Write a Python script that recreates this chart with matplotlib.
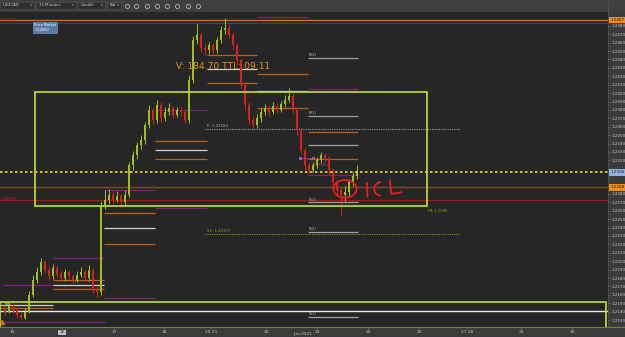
import matplotlib
matplotlib.use("Agg")
import matplotlib.pyplot as plt
from matplotlib.patches import Rectangle, Ellipse, Arc
from matplotlib.transforms import blended_transform_factory
import numpy as np

# 15 minute USDCAD-style candles
close = [1.2140, 1.2147, 1.2142, 1.2136, 1.2132, 1.2140, 1.2160, 1.2178, 1.2187, 1.2199,
         1.2190, 1.2182, 1.2192, 1.2185, 1.2180, 1.2187, 1.2182, 1.2178, 1.2184, 1.2187,
         1.2180, 1.2190, 1.2166, 1.2163, 1.2267, 1.2273, 1.2279, 1.2273, 1.2278, 1.2270,
         1.2279, 1.2314, 1.2326, 1.2338, 1.2344, 1.2362, 1.2380, 1.2368, 1.2386, 1.2370,
         1.2378, 1.2382, 1.2374, 1.2380, 1.2378, 1.2368, 1.2416, 1.2463, 1.2469, 1.2454,
         1.2451, 1.2457, 1.2451, 1.2463, 1.2475, 1.2478, 1.2469, 1.2457, 1.2439, 1.2410,
         1.2386, 1.2368, 1.2362, 1.2370, 1.2378, 1.2382, 1.2378, 1.2385, 1.2380, 1.2387,
         1.2392, 1.2397, 1.2380, 1.2356, 1.2332, 1.2314, 1.2309, 1.2314, 1.2320, 1.2326,
         1.2323, 1.2309, 1.2294, 1.2285, 1.2279, 1.2282, 1.2294, 1.2301, 1.2306]
high = [1.2148, 1.2152, 1.2150, 1.2145, 1.2139, 1.2144, 1.2165, 1.2183, 1.2193, 1.2204,
        1.2202, 1.2194, 1.2197, 1.2195, 1.2188, 1.2191, 1.2190, 1.2185, 1.2188, 1.2193,
        1.2190, 1.2195, 1.2192, 1.2170, 1.2272, 1.2285, 1.2286, 1.2284, 1.2283, 1.2281,
        1.2285, 1.2318, 1.2331, 1.2342, 1.2350, 1.2366, 1.2386, 1.2383, 1.2392, 1.2389,
        1.2383, 1.2388, 1.2385, 1.2384, 1.2383, 1.2381, 1.2421, 1.2468, 1.2483, 1.2472,
        1.2458, 1.2461, 1.2460, 1.2467, 1.2480, 1.2489, 1.2482, 1.2472, 1.2460, 1.2442,
        1.2413, 1.2390, 1.2372, 1.2375, 1.2382, 1.2387, 1.2386, 1.2390, 1.2388, 1.2391,
        1.2398, 1.2406, 1.2400, 1.2383, 1.2358, 1.2335, 1.2318, 1.2318, 1.2324, 1.2330,
        1.2329, 1.2325, 1.2311, 1.2297, 1.2288, 1.2290, 1.2298, 1.2306, 1.2315]
low = [1.2136, 1.2138, 1.2139, 1.2133, 1.2130, 1.2131, 1.2138, 1.2157, 1.2174, 1.2184,
       1.2186, 1.2178, 1.2179, 1.2181, 1.2176, 1.2177, 1.2179, 1.2174, 1.2175, 1.2181,
       1.2176, 1.2177, 1.2162, 1.2157, 1.2160, 1.2262, 1.2268, 1.2269, 1.2270, 1.2264,
       1.2267, 1.2276, 1.2309, 1.2321, 1.2333, 1.2340, 1.2358, 1.2363, 1.2365, 1.2366,
       1.2367, 1.2374, 1.2370, 1.2371, 1.2373, 1.2364, 1.2365, 1.2412, 1.2458, 1.2449,
       1.2445, 1.2447, 1.2446, 1.2448, 1.2460, 1.2470, 1.2465, 1.2452, 1.2434, 1.2405,
       1.2380, 1.2363, 1.2357, 1.2359, 1.2366, 1.2374, 1.2373, 1.2375, 1.2376, 1.2377,
       1.2383, 1.2389, 1.2376, 1.2350, 1.2327, 1.2309, 1.2305, 1.2306, 1.2311, 1.2317,
       1.2318, 1.2304, 1.2288, 1.2278, 1.2255, 1.2272, 1.2278, 1.2290, 1.2298]
first_open = 1.2143

# full-width levels
lvl_top_orange = 1.2487
lvl_top_red = 1.2483
lvl_brown = 1.2288
lvl_red = 1.2273
lvl_white = 1.2141
lvl_bid = 1.2306
lvl_pivot = 1.2357
lvl_s1 = 1.2232

# daily zone segments (start, end, price)
purple_segs = [(-0.5, 12, 1.2172), (12, 24.75, 1.2204), (24.75, 37.5, 1.2156),
               (24.75, 37.5, 1.2285), (37.5, 50.5, 1.2263), (37.5, 50.5, 1.2380),
               (50.5, 63, 1.2484), (63, 75.75, 1.2491), (75.75, 88.25, 1.2405),
               (75.75, 88.25, 1.2303), (-0.5, 25, 1.2128)]
orange_segs = [(12, 24.75, 1.2178), (12, 24.75, 1.2167), (24.75, 37.5, 1.2257),
               (24.75, 37.5, 1.2220), (37.5, 50.5, 1.2343), (37.5, 50.5, 1.2322),
               (50.5, 63, 1.2445), (50.5, 63, 1.2412), (63, 75.75, 1.2423),
               (63, 75.75, 1.2382), (75.75, 88.25, 1.2354), (75.75, 88.25, 1.2322),
               (-1.25, 12, 1.2144)]
white_segs = [(12, 24.75, 1.2172), (24.75, 37.5, 1.2239), (37.5, 50.5, 1.2332),
              (50.5, 63, 1.2429), (63, 75.75, 1.2403), (-1.25, 12, 1.2148)]
pivot_names = ['(R2)', '(R1)', '', '(S1)', '(S2)', '(S3)']
pivot_vals = [1.2442, 1.2373, 1.2338, 1.2270, 1.2235, 1.2134]

box_main = (7.5, 105.5, 1.2266, 1.2401)
box_low = (-1.25, 150.2, 1.2120, 1.2151)

price_ticks = [1.2130 + 0.001 * k for k in range(37)]
day_labels = ['15', '16', '17', '18', '20 21', '22', '23', '24', '25', '27 28', '29', '30']
day_pos = [1.75, 14.25, 27.25, 39.75, 51.5, 65.25, 78.0, 90.75, 103.5, 115.5, 129.0, 141.75]

BG = '#262626'
STRIP = '#3b3b3b'
UP = '#9cc11f'
DOWN = '#d8231c'
ORANGE = '#b8621c'
PURPLE = '#7d2280'
GREEN = '#b5d334'

fig = plt.figure(figsize=(6.25, 3.37), dpi=100, facecolor=STRIP)
ax = fig.add_axes([0, 10 / 337, 608 / 625, 315 / 337])
ax.set_facecolor(BG)
ax.set_xlim(-1.25, 150.75)
ax.set_ylim(1.21217, 1.24965)
for s in ax.spines.values():
    s.set_visible(False)

# candles
n = len(close)
x = np.arange(n)
opens = [first_open] + close[:-1]
cols = [UP if c >= o else DOWN for o, c in zip(opens, close)]
ax.vlines(x, low, high, colors=cols, lw=0.7, zorder=4)
bottoms = [min(o, c) for o, c in zip(opens, close)]
heights = [max(abs(c - o), 0.00008) for o, c in zip(opens, close)]
ax.bar(x, heights, bottom=bottoms, width=0.65, color=cols, lw=0, zorder=5)

# full width lines
ax.axhline(lvl_top_orange, color='#d2691e', lw=1.0, zorder=3)
ax.axhline(lvl_top_red, color='#9b1a1a', lw=0.8, zorder=3)
ax.axhline(lvl_brown, color='#7a4a22', lw=1.0, zorder=3)
ax.axhline(lvl_red, color='#a0181a', lw=0.9, zorder=3)
ax.axhline(lvl_white, color='#e8e8e8', lw=1.0, zorder=3)
ax.axhline(lvl_bid, color='#f0e020', lw=1.2, ls=(0, (1.5, 1.5)), zorder=6)
ax.hlines(lvl_pivot, 50, 113.75, color='#9a9a9a', lw=0.8, ls=(0, (1, 1)), zorder=3)
ax.hlines(lvl_s1, 50, 113.75, color='#8c8c20', lw=0.8, ls=(0, (1, 1)), zorder=3)

for x0, x1, p in purple_segs:
    ax.hlines(p, x0, x1, color=PURPLE, lw=0.9, zorder=3)
for x0, x1, p in orange_segs:
    ax.hlines(p, x0, x1, color=ORANGE, lw=0.9, zorder=3)
for x0, x1, p in white_segs:
    ax.hlines(p, x0, x1, color='#cfcfcf', lw=0.9, zorder=3)
for name, p in zip(pivot_names, pivot_vals):
    ax.hlines(p, 75.75, 88.25, color='#a0a0a0', lw=0.9, zorder=3)
    if name:
        ax.text(75.9, p + 0.0001, name, color='#bbbbbb', fontsize=2.8, va='bottom')

# boxes
for x0, x1, y0, y1 in [box_main, box_low]:
    ax.add_patch(Rectangle((x0, y0), x1 - x0, y1 - y0, fill=False,
                           ec=GREEN, lw=1.3, zorder=7))

# texts
ax.text(42.75, 1.2432, 'V: 184.70 TTL: 09:11', color='#e3901f', fontsize=6.6,
        va='center', zorder=8)
ax.text(50.5, lvl_pivot + 0.0001, 'P: 1.23584', color='#aaaaaa', fontsize=2.8, va='bottom')
ax.text(50.5, lvl_s1 + 0.0001, 'S1: 1.22317', color='#9a9a28', fontsize=2.8, va='bottom')
ax.text(105.8, 1.2260, 'PA 1.1245', color='#9a9a28', fontsize=2.8, va='center')
ax.text(77, 1.2315, '1.2318.2', color='#c040c0', fontsize=2.8, va='center')
ax.hlines(1.2323, 73.75, 77.0, color='#c040c0', lw=0.7, ls=(0, (2, 1)))
ax.plot([73.75, 77.0], [1.2323, 1.2323], 'o', color='#d040d0', ms=1.5)
ax.text(-1.1, lvl_top_orange, '1.24870', color='#d02020', fontsize=2.8, va='center')
ax.text(-1.1, lvl_red + 0.00005, '1.22870', color='#d02020', fontsize=2.8, va='center')
ax.text(0.0, 1.2149, 'Fill', color='#e0e0e0', fontsize=2.8, va='center')
ax.plot([-0.7], [1.2128], marker='^', color='#d07020', ms=3)
ax.text(7.3, 1.2478, 'Price Market\n1.24900', color='white', fontsize=2.5,
        va='center', linespacing=1.6,
        bbox=dict(boxstyle='square,pad=0.3', fc='#5a78a8', ec='#8aa0c8', lw=0.4), zorder=9)

# hand drawn note
red = '#ee1c1c'
ax.add_patch(Ellipse((85, 1.2286), 5.8, 0.0021, fill=False, ec=red, lw=1.3, zorder=10))
ax.plot([90.5, 90.6], [1.2293, 1.2277], color=red, lw=1.3, zorder=10)
ax.add_patch(Arc((94.0, 1.2286), 3.4, 0.0016, theta1=50, theta2=300, ec=red, lw=1.3, zorder=10))
ax.plot([96.2, 96.6, 99.0], [1.2296, 1.2280, 1.2282], color=red, lw=1.3, zorder=10)

# right price scale, markers hide the tick labels they sit on
markers = [(lvl_top_orange, '#f08c1a'), (lvl_bid, '#8fb4e0'), (lvl_brown, '#f08c1a')]
ax.yaxis.tick_right()
ax.set_yticks(price_ticks)
tick_text = []
for t in price_ticks:
    hidden = any(abs(t - p) < 0.0006 for p, _ in markers)
    tick_text.append('' if hidden else '%.4f' % t)
ax.set_yticklabels(tick_text)
ax.tick_params(axis='y', colors='#888888', labelcolor='#c8c8c8', labelsize=3.0,
               length=1.5, width=0.4, pad=1)
trans = blended_transform_factory(ax.transAxes, ax.transData)
for p, fc in markers:
    ax.text(1.004, p, '%.4f' % p, transform=trans, color='#222222', fontsize=3.0,
            va='center', clip_on=False, zorder=12,
            bbox=dict(boxstyle='square,pad=0.35', fc=fc, ec='none'))

# time scale
ax.set_xticks(day_pos)
ax.set_xticklabels(day_labels)
ax.tick_params(axis='x', colors='#888888', labelcolor='#c8c8c8', labelsize=3.2,
               length=1.5, width=0.4, pad=1)
ax.get_xticklabels()[1].set_bbox(dict(boxstyle='square,pad=0.2', fc='#bdbdbd', ec='none'))
ax.get_xticklabels()[1].set_color('#333333')
fig.text(303 / 625, 1.5 / 337, 'Jun 2021', color='#c8c8c8', fontsize=3.2, ha='center', va='bottom')
fig.add_artist(plt.Line2D([0, 1], [10 / 337, 10 / 337], color='#6b8a20', lw=0.8))
fig.add_artist(plt.Line2D([608 / 625, 608 / 625], [10 / 337, 1], color='#555555', lw=0.5))

# top tool bar
tb = fig.add_axes([0, 326 / 337, 1, 11 / 337])
tb.set_facecolor('#3f3f3f')
tb.set_xlim(0, 625)
tb.set_ylim(0, 11)
tb.axis('off')
tb.add_patch(Rectangle((0, 0), 625, 11, fc='#3f3f3f', ec='none'))
for x0, w, label in [(0, 34, 'USDCAD'), (36, 40, '15 Minutes'), (78, 27, 'Candle'), (107, 14, 'Bid')]:
    tb.add_patch(Rectangle((x0, 2), w, 7, fc='#2e2e2e', ec='#555555', lw=0.4))
    tb.text(x0 + 3, 5.5, label, color='#d0d0d0', fontsize=2.8, va='center')
    tb.text(x0 + w - 4, 5.5, 'v', color='#b0b0b0', fontsize=2.6, va='center')
for cx in [127, 136, 147, 157, 167, 177, 188, 198]:
    tb.plot(cx, 5.5, 'o', mfc='none', mec='#c8c8c8', ms=3, mew=0.5)

fig.savefig('out.png', dpi=100, facecolor=fig.get_facecolor())
